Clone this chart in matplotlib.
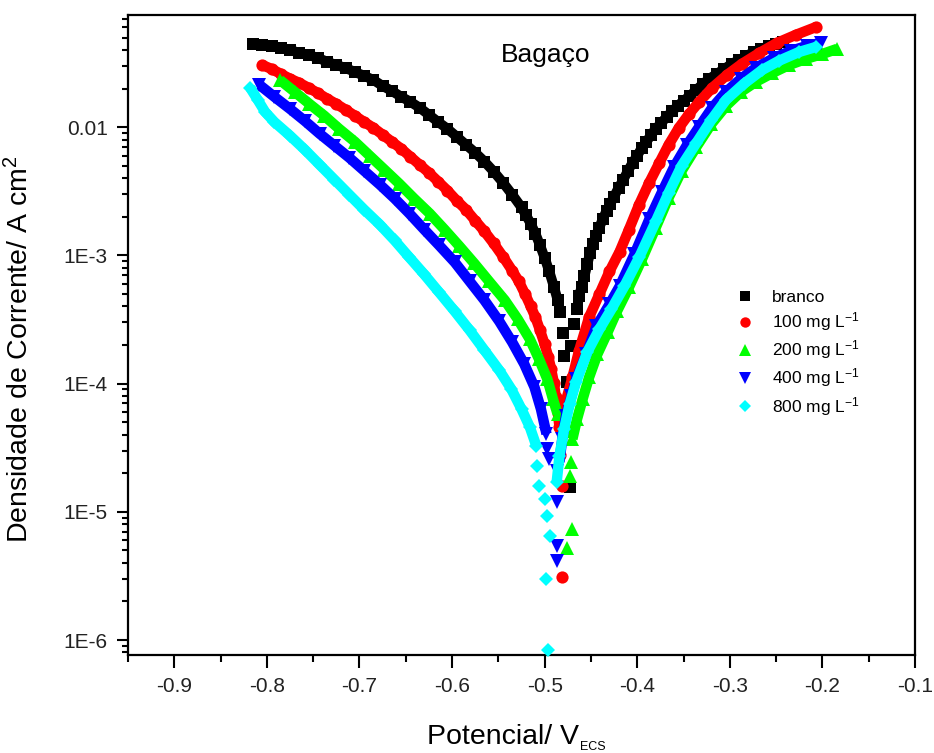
import matplotlib
matplotlib.use("Agg")
import matplotlib.pyplot as plt
from matplotlib.lines import Line2D
from matplotlib.ticker import MultipleLocator, LogLocator, NullFormatter, FixedLocator, FixedFormatter

plt.rcParams['font.family'] = ['Liberation Sans', 'DejaVu Sans']
plt.rcParams['mathtext.fontset'] = 'custom'
plt.rcParams['mathtext.rm'] = 'Liberation Sans'
plt.rcParams['mathtext.it'] = 'Liberation Sans:italic'
plt.rcParams['mathtext.bf'] = 'Liberation Sans:bold'

# ---------------- data (potential in V vs ECS, current density in A cm^-2) ----------------
# branco
branco_cat_E = [-0.815, -0.805, -0.795, -0.785, -0.775, -0.765, -0.755, -0.745, -0.735, -0.725,
                -0.715, -0.705, -0.695, -0.685, -0.675, -0.665, -0.655, -0.645, -0.635, -0.625,
                -0.615, -0.605, -0.595, -0.585, -0.575, -0.565, -0.555, -0.545, -0.535, -0.525,
                -0.520, -0.515, -0.510, -0.505, -0.500, -0.495, -0.490, -0.486, -0.483]
branco_cat_i = [4.47e-2, 4.39e-2, 4.31e-2, 4.16e-2, 4.01e-2, 3.80e-2, 3.66e-2, 3.48e-2, 3.24e-2, 3.06e-2,
                2.90e-2, 2.70e-2, 2.52e-2, 2.34e-2, 2.10e-2, 1.92e-2, 1.73e-2, 1.58e-2, 1.42e-2, 1.25e-2,
                1.10e-2, 9.73e-3, 8.44e-3, 7.31e-3, 6.34e-3, 5.40e-3, 4.51e-3, 3.70e-3, 2.98e-3, 2.37e-3,
                2.05e-3, 1.77e-3, 1.48e-3, 1.20e-3, 9.6e-4, 7.5e-4, 5.7e-4, 4.5e-4, 3.6e-4]
branco_pts_E = [-0.480, -0.479, -0.4755, -0.473, -0.472, -0.468]
branco_pts_i = [2.5e-4, 1.64e-4, 1.03e-4, 1.57e-5, 1.96e-4, 2.90e-4]
branco_an_E = [-0.465, -0.463, -0.460, -0.457, -0.454, -0.451, -0.448, -0.445, -0.441, -0.437,
               -0.433, -0.429, -0.425, -0.420, -0.415, -0.410, -0.405, -0.400, -0.395, -0.390,
               -0.385, -0.380, -0.374, -0.368, -0.362, -0.356, -0.350, -0.343, -0.336, -0.329,
               -0.322, -0.314, -0.306, -0.298, -0.290, -0.282, -0.274, -0.266, -0.258, -0.250, -0.243]
branco_an_i = [3.80e-4, 4.8e-4, 5.7e-4, 6.9e-4, 8.5e-4, 1.04e-3, 1.22e-3, 1.41e-3, 1.65e-3, 1.94e-3,
               2.24e-3, 2.54e-3, 2.88e-3, 3.38e-3, 3.90e-3, 4.58e-3, 5.29e-3, 6.00e-3, 6.92e-3, 7.71e-3,
               8.75e-3, 9.73e-3, 1.08e-2, 1.21e-2, 1.34e-2, 1.47e-2, 1.61e-2, 1.76e-2, 1.96e-2, 2.18e-2,
               2.39e-2, 2.61e-2, 2.85e-2, 3.12e-2, 3.35e-2, 3.60e-2, 3.87e-2, 4.09e-2, 4.31e-2, 4.47e-2, 4.63e-2]

# 100 mg/L
c100_cat_E = [-0.805, -0.795, -0.785, -0.775, -0.765, -0.755, -0.745, -0.735, -0.725, -0.715,
              -0.705, -0.695, -0.685, -0.675, -0.665, -0.655, -0.645, -0.635, -0.625, -0.615,
              -0.605, -0.595, -0.585, -0.575, -0.565, -0.555, -0.545, -0.535, -0.528, -0.521,
              -0.515, -0.510, -0.505, -0.500, -0.496, -0.493, -0.490, -0.488, -0.486, -0.484]
c100_cat_i = [3.06e-2, 2.85e-2, 2.61e-2, 2.39e-2, 2.22e-2, 2.03e-2, 1.85e-2, 1.67e-2, 1.52e-2, 1.37e-2,
              1.23e-2, 1.10e-2, 9.9e-3, 8.75e-3, 7.71e-3, 6.81e-3, 5.89e-3, 5.10e-3, 4.42e-3, 3.77e-3,
              3.21e-3, 2.68e-3, 2.28e-3, 1.87e-3, 1.54e-3, 1.24e-3, 9.8e-4, 7.6e-4, 6.3e-4, 4.97e-4,
              4.0e-4, 3.30e-4, 2.61e-4, 2.03e-4, 1.61e-4, 1.30e-4, 1.01e-4, 7.9e-5, 6.1e-5, 4.6e-5]
c100_pts_E = [-0.483, -0.481, -0.481]
c100_pts_i = [2.8e-5, 1.6e-5, 3.1e-6]
c100_an_E = [-0.478, -0.470, -0.463, -0.452, -0.441, -0.430, -0.419, -0.409, -0.398, -0.387,
             -0.376, -0.366, -0.355, -0.344, -0.333, -0.319, -0.303, -0.287, -0.268, -0.249,
             -0.229, -0.207]
c100_an_i = [6.92e-5, 1.12e-4, 1.79e-4, 3.30e-4, 4.97e-4, 7.50e-4, 1.07e-3, 1.59e-3, 2.49e-3, 3.70e-3,
             5.30e-3, 7.31e-3, 9.9e-3, 1.27e-2, 1.58e-2, 2.03e-2, 2.56e-2, 3.12e-2, 3.80e-2, 4.55e-2,
             5.25e-2, 6.05e-2]

# 200 mg/L
c200_cat_E = [-0.786, -0.770, -0.754, -0.738, -0.722, -0.705, -0.689, -0.673, -0.657, -0.641,
              -0.624, -0.608, -0.592, -0.576, -0.560, -0.543, -0.529, -0.516, -0.506, -0.497,
              -0.491, -0.486]
c200_cat_i = [2.34e-2, 1.89e-2, 1.52e-2, 1.23e-2, 9.73e-3, 7.71e-3, 6.00e-3, 4.67e-3, 3.63e-3, 2.78e-3,
              2.12e-3, 1.59e-3, 1.18e-3, 8.67e-4, 6.28e-4, 4.47e-4, 3.18e-4, 2.22e-4, 1.55e-4, 1.08e-4,
              7.57e-5, 5.79e-5]
c200_pts_E = [-0.471, -0.473, -0.470, -0.4755]
c200_pts_i = [2.45e-5, 1.91e-5, 7.4e-6, 5.2e-6]
c200_an_E = [-0.470, -0.465, -0.459, -0.452, -0.443, -0.432, -0.422, -0.409, -0.395, -0.380,
             -0.366, -0.352, -0.336, -0.320, -0.304, -0.288, -0.272, -0.254, -0.236, -0.218,
             -0.200, -0.184]
c200_an_i = [3.70e-5, 5.29e-5, 7.57e-5, 1.12e-4, 1.70e-4, 2.52e-4, 3.66e-4, 5.64e-4, 9.31e-4, 1.65e-3,
             2.83e-3, 4.58e-3, 7.05e-3, 1.06e-2, 1.47e-2, 1.89e-2, 2.26e-2, 2.65e-2, 3.06e-2, 3.41e-2,
             3.73e-2, 4.09e-2]

# 400 mg/L
c400_cat_E = [-0.808, -0.792, -0.775, -0.759, -0.743, -0.727, -0.711, -0.695, -0.678, -0.662,
              -0.646, -0.630, -0.614, -0.597, -0.581, -0.565, -0.549, -0.535, -0.522, -0.511,
              -0.504, -0.498]
c400_cat_i = [2.14e-2, 1.73e-2, 1.39e-2, 1.12e-2, 8.90e-3, 7.18e-3, 5.79e-3, 4.58e-3, 3.57e-3, 2.78e-3,
              2.12e-3, 1.59e-3, 1.20e-3, 8.83e-4, 6.28e-4, 4.47e-4, 3.06e-4, 2.10e-4, 1.42e-4, 9.40e-5,
              6.33e-5, 4.05e-5]
c400_pts_E = [-0.495, -0.497, -0.487, -0.487, -0.487, -0.487]
c400_pts_i = [2.58e-5, 3.1e-5, 2.08e-5, 1.20e-5, 5.4e-6, 4.1e-6]
c400_an_E = [-0.484, -0.481, -0.477, -0.471, -0.466, -0.455, -0.444, -0.430, -0.419, -0.403,
             -0.387, -0.373, -0.360, -0.346, -0.333, -0.319, -0.304, -0.288, -0.272, -0.252,
             -0.234, -0.217, -0.202]
c400_an_i = [2.45e-5, 3.70e-5, 5.58e-5, 8.00e-5, 1.08e-4, 1.70e-4, 2.80e-4, 4.15e-4, 5.74e-4, 1.02e-3,
             1.91e-3, 3.15e-3, 4.93e-3, 7.31e-3, 1.01e-2, 1.42e-2, 1.89e-2, 2.39e-2, 2.90e-2, 3.48e-2,
             3.94e-2, 4.31e-2, 4.55e-2]

# 800 mg/L
c800_cat_E = [-0.818, -0.810, -0.802, -0.792, -0.775, -0.759, -0.743, -0.727, -0.711, -0.695,
              -0.678, -0.662, -0.646, -0.630, -0.614, -0.597, -0.581, -0.565, -0.549, -0.536,
              -0.525, -0.516, -0.509]
c800_cat_i = [2.03e-2, 1.64e-2, 1.32e-2, 1.10e-2, 8.59e-3, 6.68e-3, 5.10e-3, 3.90e-3, 2.98e-3, 2.28e-3,
              1.74e-3, 1.31e-3, 9.64e-4, 7.11e-4, 5.16e-4, 3.66e-4, 2.61e-4, 1.82e-4, 1.27e-4, 9.06e-5,
              6.33e-5, 4.58e-5, 3.27e-5]
c800_pts_E = [-0.508, -0.506, -0.500, -0.497, -0.494, -0.498, -0.496]
c800_pts_i = [2.28e-5, 1.59e-5, 1.26e-5, 9.3e-6, 6.5e-6, 3.0e-6, 8.3e-7]
c800_an_E = [-0.487, -0.484, -0.479, -0.473, -0.466, -0.454, -0.441, -0.428, -0.414, -0.398,
             -0.380, -0.366, -0.352, -0.336, -0.320, -0.304, -0.285, -0.265, -0.247, -0.225, -0.207]
c800_an_i = [1.71e-5, 2.73e-5, 4.42e-5, 6.92e-5, 1.03e-4, 1.76e-4, 2.65e-4, 3.80e-4, 5.74e-4, 9.64e-4,
             1.84e-3, 3.09e-3, 5.01e-3, 7.57e-3, 1.14e-2, 1.64e-2, 2.18e-2, 2.80e-2, 3.30e-2, 3.87e-2, 4.23e-2]

labels = ['branco', '100 mg L$^{-1}$', '200 mg L$^{-1}$', '400 mg L$^{-1}$', '800 mg L$^{-1}$']
colors = ['#000000', '#ff0000', '#00ff00', '#0000ff', '#00ffff']
markers = ['s', 'o', '^', 'v', 'D']
msizes = [8.0, 8.8, 9.8, 9.8, 7.0]
lws = [7.2, 7.5, 7.5, 7.5, 7.5]

xtick_vals = [-0.9, -0.8, -0.7, -0.6, -0.5, -0.4, -0.3, -0.2, -0.1]
xtick_labels = ['-0.9', '-0.8', '-0.7', '-0.6', '-0.5', '-0.4', '-0.3', '-0.2', '-0.1']
ytick_vals = [1e-6, 1e-5, 1e-4, 1e-3, 1e-2]
ytick_labels = ['1E-6', '1E-5', '1E-4', '1E-3', '0.01']

series = [
    (branco_cat_E, branco_cat_i, branco_an_E, branco_an_i, branco_pts_E, branco_pts_i),
    (c100_cat_E, c100_cat_i, c100_an_E, c100_an_i, c100_pts_E, c100_pts_i),
    (c200_cat_E, c200_cat_i, c200_an_E, c200_an_i, c200_pts_E, c200_pts_i),
    (c400_cat_E, c400_cat_i, c400_an_E, c400_an_i, c400_pts_E, c400_pts_i),
    (c800_cat_E, c800_cat_i, c800_an_E, c800_an_i, c800_pts_E, c800_pts_i),
]

# ---------------- figure ----------------
fig = plt.figure(figsize=(9.34, 7.53), dpi=100)
ax = fig.add_axes([128 / 934, 1 - 655 / 753, (915 - 128) / 934, (655 - 15) / 753])

for k, (cE, ci, aE, ai, pE, pi) in enumerate(series):
    z = 3 + k
    for E, I in ((cE, ci), (aE, ai)):
        ax.plot(E, I, color=colors[k], lw=lws[k], solid_capstyle='butt', solid_joinstyle='round',
                marker=markers[k], ms=msizes[k], mec=colors[k], mfc=colors[k], mew=0, zorder=z,
                clip_on=False)
    ax.plot(pE, pi, ls='none', marker=markers[k], ms=msizes[k], mec=colors[k], mfc=colors[k],
            mew=0, zorder=z, clip_on=False)

ax.set_yscale('log')
ax.set_xlim(-0.95, -0.1)
ax.set_ylim(7.64e-7, 7.51e-2)

ax.xaxis.set_major_locator(FixedLocator(xtick_vals))
ax.xaxis.set_major_formatter(FixedFormatter(xtick_labels))
ax.xaxis.set_minor_locator(MultipleLocator(0.05))

ax.yaxis.set_major_locator(FixedLocator(ytick_vals))
ax.yaxis.set_major_formatter(FixedFormatter(ytick_labels))
ax.yaxis.set_minor_locator(LogLocator(base=10, subs=[2, 3, 4, 5, 6, 7, 8, 9], numticks=50))
ax.yaxis.set_minor_formatter(NullFormatter())

ax.tick_params(which='both', direction='out', top=False, right=False, width=1.5, color='black')
ax.tick_params(axis='x', which='major', length=9.5, labelsize=15, pad=6.5, labelcolor='#222222')
ax.tick_params(axis='x', which='minor', length=5)
ax.tick_params(axis='y', which='major', length=8, labelsize=15, pad=6.5, labelcolor='#222222')
ax.tick_params(axis='y', which='minor', length=4.5)
for s in ax.spines.values():
    s.set_linewidth(1.6)

ax.set_xlabel('Potencial/ V', fontsize=20.5)
ax.xaxis.label.set_va('baseline')
ax.xaxis.set_label_coords((503 - 128) / 787, -(744 - 655) / 640)
fig.text(580 / 934, 1 - 750 / 753, 'ECS', fontsize=9, ha='left', va='baseline')

ax.set_ylabel('Densidade de Corrente/ A cm$^{2}$', fontsize=20.5)
ax.yaxis.set_label_coords((34 - 128) / 787, 0.478)

fig.text(545.5 / 934, 1 - 62 / 753, 'Bagaço', fontsize=19, ha='center', va='baseline')

handles = [Line2D([], [], ls='none', marker=markers[k], ms=msizes[k] * 0.85, color=colors[k], mew=0)
           for k in range(5)]
ax.legend(handles, labels, loc='upper left', bbox_to_anchor=(731 / 934, 1 - 290 / 753),
          bbox_transform=fig.transFigure, frameon=False, fontsize=12.5, handlelength=1.6,
          handletextpad=0.755, labelspacing=0.3, borderpad=0, borderaxespad=0)

fig.savefig('out.png', dpi=100)
